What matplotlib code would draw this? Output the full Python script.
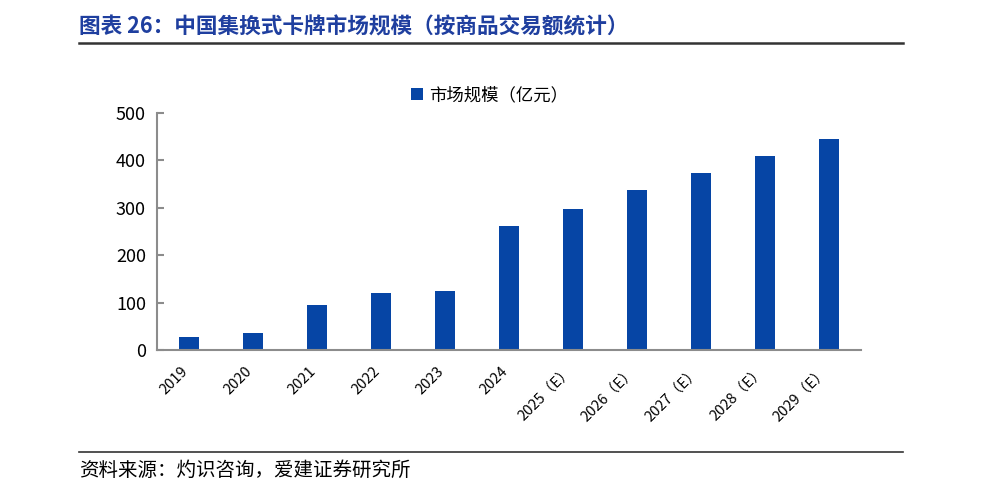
import matplotlib.pyplot as plt
from matplotlib.lines import Line2D
from matplotlib.transforms import ScaledTranslation

plt.rcParams['font.family'] = ['Noto Sans CJK SC', 'DejaVu Sans']

# data
years = ['2019', '2020', '2021', '2022', '2023', '2024',
         '2025（E）', '2026（E）', '2027（E）', '2028（E）', '2029（E）']
market_size = [27, 35, 94, 121, 125, 262, 298, 337, 374, 410, 445]

bar_color = '#0645A5'
title_color = '#1F3F9F'
axis_color = '#8C8C8C'

fig = plt.figure(figsize=(9.84, 4.86), dpi=100)
W, H = 984, 486

# plot area in pixels: x 157..861, y 113..350
ax = fig.add_axes([157 / W, 1 - 350 / H, (861 - 157) / W, (350 - 113) / H])
x = range(len(years))
ax.bar(x, market_size, width=0.31, color=bar_color, label='市场规模（亿元）')
ax.set_xlim(-0.5, len(years) - 0.5)
ax.set_ylim(0, 500)
ax.set_yticks([0, 100, 200, 300, 400, 500])
ax.tick_params(axis='y', labelsize=13, length=5, width=1.5, color=axis_color,
               direction='in', pad=8)
ax.tick_params(axis='x', length=0, pad=10)
ax.set_xticks(list(x))
ax.set_xticklabels(years, rotation=45, ha='right', rotation_mode='anchor', fontsize=10.5)
shift = ScaledTranslation(-0.08, 0, fig.dpi_scale_trans)
for lbl in ax.get_xticklabels():
    lbl.set_transform(lbl.get_transform() + shift)

for side in ['top', 'right']:
    ax.spines[side].set_visible(False)
for side in ['left', 'bottom']:
    ax.spines[side].set_color(axis_color)
    ax.spines[side].set_linewidth(1.5)

ax.legend(loc='center', bbox_to_anchor=(490 / W, 1 - 95 / H), bbox_transform=fig.transFigure,
          frameon=False, fontsize=12.5, handlelength=0.65, handleheight=0.65, handletextpad=0.4)

# title and rules
fig.text(79 / W, 1 - 27 / H, '图表 26：中国集换式卡牌市场规模（按商品交易额统计）',
         fontsize=15.6, fontweight='bold', color=title_color, va='center', ha='left')
fig.add_artist(Line2D([79 / W, 903 / W], [1 - 43 / H, 1 - 43 / H], color='#333333', linewidth=1.8))
fig.add_artist(Line2D([79 / W, 903 / W], [1 - 452 / H, 1 - 452 / H], color='#333333', linewidth=1.2))
fig.text(79 / W, 1 - 470 / H, '资料来源：灼识咨询，爱建证券研究所',
         fontsize=14, color='black', va='center', ha='left')

fig.savefig('out.png', dpi=100)
